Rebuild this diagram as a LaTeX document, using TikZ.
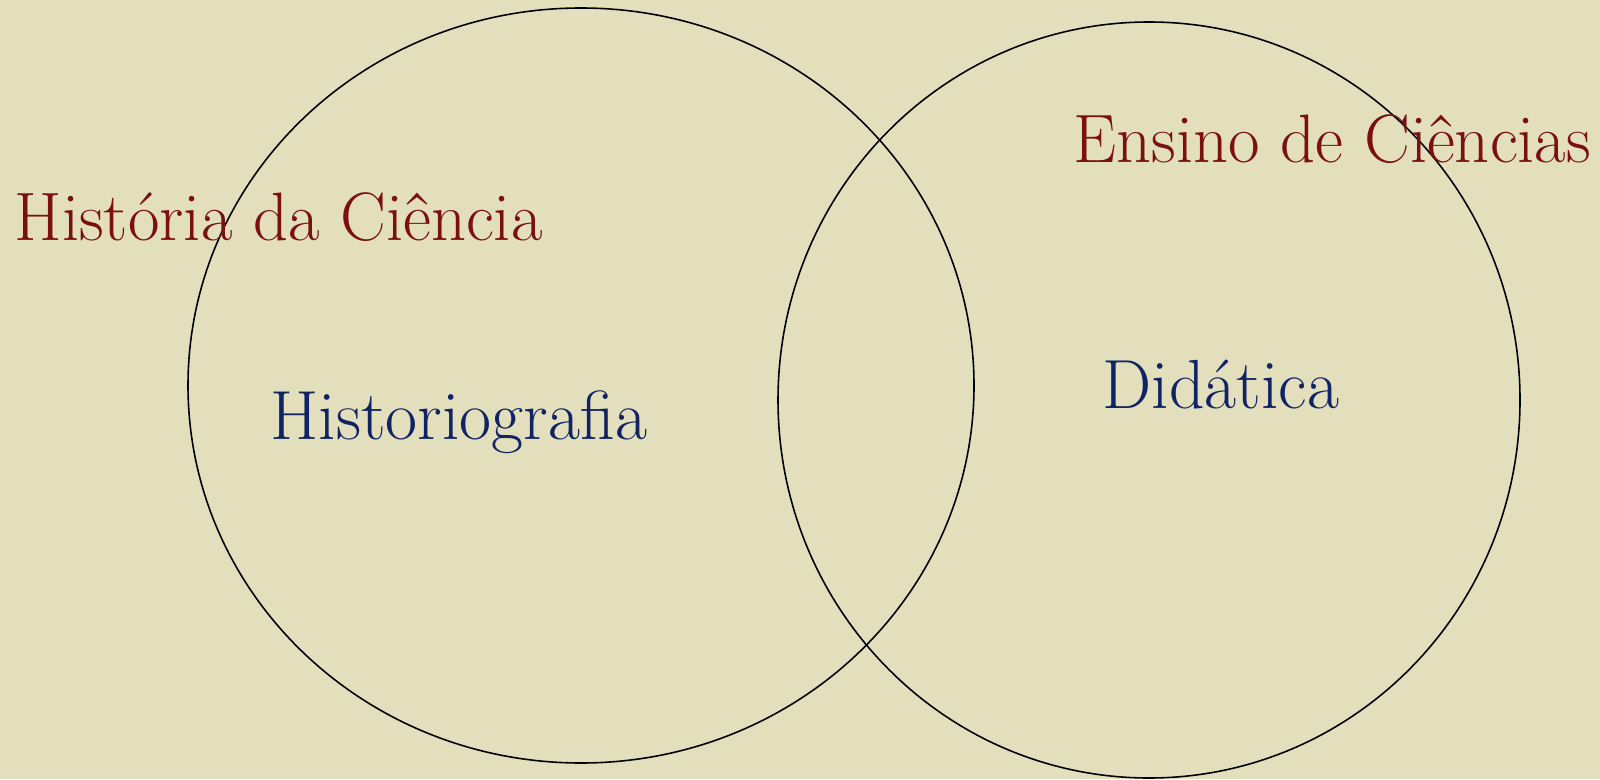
\documentclass[tikz,border=0pt]{standalone}
\usepackage{fontspec}
\definecolor{paper}{RGB}{227,222,188}
\definecolor{titlered}{RGB}{122,16,16}
\definecolor{inkblue}{RGB}{16,36,100}
\tikzset{
  area/.style={inner sep=0pt, anchor=base west, text=titlered, font=\fontsize{19.5}{22}\selectfont},
  field/.style={inner sep=0pt, anchor=base west, text=inkblue, font=\fontsize{19.8}{22}\selectfont}
}
\begin{document}
\begin{tikzpicture}
    \def\histcircle{(5.81,3.935) ellipse [x radius=3.93cm, y radius=3.775cm]}
    \def\ensinocircle{(11.49,3.79) ellipse [x radius=3.71cm, y radius=3.78cm]}
    \def\frame{(0,0) rectangle (16,7.79)}

    \fill[paper] \frame;
    \useasboundingbox \frame;

    \draw[black, line width=0.45pt] \histcircle;
    \draw[black, line width=0.45pt] \ensinocircle;

    \node[area] (historia) at (0.14,5.39) {História da Ciência};
    \node[area] (ensino) at (10.73,6.16) {Ensino de Ciências};
    \node[field] (historiografia) at (2.70,3.40) {Historiografia};
    \node[field] (didatica) at (11.02,3.71) {Didática};
\end{tikzpicture}
\end{document}
